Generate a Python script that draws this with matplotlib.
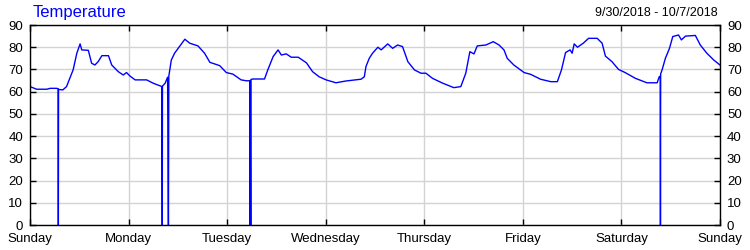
import matplotlib
matplotlib.use("Agg")
import matplotlib.pyplot as plt

plt.rcParams["font.family"] = ["Liberation Sans", "DejaVu Sans"]

# hours since Sunday 0:00 and temperature readings (0 = sensor dropout)
hours = [
    0.0, 1.6, 4.1, 4.9, 6.5, 6.85, 6.9, 6.95, 8.0, 8.9, 10.5, 11.4, 12.2, 12.6,
    14.2, 15.0, 15.8, 16.6, 17.5, 19.1, 19.9, 21.5, 22.7, 23.5, 24.3, 25.6,
    28.4, 30.0, 32.1, 32.2, 32.25, 32.9, 33.5, 33.7, 33.8, 34.4, 35.2, 36.4,
    37.7, 38.9, 40.9, 42.5, 43.8, 46.2, 47.8, 49.4, 51.4, 52.7, 53.55, 53.6,
    53.65, 53.75, 53.8, 54.3, 57.1, 57.9, 59.2, 60.4, 61.2, 62.4, 63.6, 65.3,
    67.3, 68.8, 70.4, 72.1, 74.5, 76.9, 80.6, 81.4, 81.8, 82.6, 83.4, 84.7,
    85.5, 87.1, 88.3, 89.5, 90.7, 92.0, 93.6, 95.2, 96.4, 98.0, 100.5, 103.2,
    104.9, 106.1, 107.1, 108.1, 108.9, 111.0, 112.8, 114.2, 115.4, 116.2,
    117.8, 120.3, 121.9, 124.3, 126.8, 128.4, 129.4, 130.4, 131.5, 132.0,
    132.5, 133.3, 134.7, 136.0, 138.1, 139.3, 140.1, 141.7, 143.3, 144.9,
    147.4, 150.2, 152.7, 153.2, 153.45, 153.5, 153.55, 153.9, 154.7, 155.7,
    156.5, 157.9, 158.6, 159.6, 162.0, 163.2, 164.8, 166.5, 168.0,
]
temps = [
    62.3, 61.1, 61.1, 61.5, 61.5, 61.3, 0, 61.0, 60.8, 62.3, 69.8, 77.3, 81.5,
    78.8, 78.6, 72.8, 72.0, 73.5, 76.2, 76.2, 72.0, 69.0, 67.5, 68.6, 67.1,
    65.3, 65.3, 63.8, 62.3, 0, 62.5, 63.8, 66.5, 0, 67.0, 74.2, 77.3, 80.3,
    83.6, 81.8, 80.6, 77.3, 73.2, 71.7, 68.6, 67.9, 65.3, 64.9, 64.9, 0,
    65.0, 0, 65.5, 65.7, 65.7, 69.8, 75.8, 78.8, 76.5, 77.0, 75.5, 75.5,
    73.0, 69.0, 66.7, 65.3, 64.0, 64.8, 65.6, 66.7, 71.3, 75.0, 77.3, 80.0,
    78.8, 81.5, 79.5, 81.0, 80.3, 73.5, 69.8, 68.3, 68.3, 66.0, 63.8, 61.8,
    62.3, 68.3, 78.0, 77.0, 80.6, 81.0, 82.5, 81.0, 78.8, 75.0, 72.0, 68.6,
    67.8, 65.6, 64.5, 64.5, 69.8, 77.6, 78.8, 77.3, 81.5, 80.0, 81.8, 84.0,
    84.0, 81.8, 76.0, 73.5, 70.0, 68.6, 66.0, 64.0, 64.0, 66.7, 67.0, 0,
    68.0, 69.8, 75.0, 79.5, 84.8, 85.5, 83.3, 85.0, 85.3, 81.0, 77.3, 74.2,
    72.0,
]

day_names = ["Sunday", "Monday", "Tuesday", "Wednesday", "Thursday",
             "Friday", "Saturday", "Sunday"]
y_ticks = list(range(0, 100, 10))

fig = plt.figure(figsize=(7.5, 2.5), dpi=100)
ax = fig.add_axes([0.04, 0.1, 0.92, 0.8])

ax.plot(hours, temps, color="#0000ff", lw=1.0)

ax.set_xlim(0, 168)
ax.set_ylim(0, 90)
ax.set_xticks([24 * i for i in range(len(day_names))])
ax.set_xticklabels(day_names)
ax.set_yticks(y_ticks)
ax.grid(True, color="#d3d3d3", lw=1.0)
ax.set_axisbelow(True)
ax.tick_params(axis="both", direction="in", length=4, width=1,
               labelsize=9.5, top=True, right=True, labelright=True)
ax.tick_params(axis="x", pad=6)
ax.tick_params(axis="y", pad=5)
for sp in ax.spines.values():
    sp.set_linewidth(1.0)

fig.text(0.044, 0.95, "Temperature", color="#0000ff", fontsize=12,
         ha="left", va="center")
fig.text(0.957, 0.95, "9/30/2018 - 10/7/2018", color="black", fontsize=9,
         ha="right", va="center")

fig.savefig("out.png", dpi=100)
